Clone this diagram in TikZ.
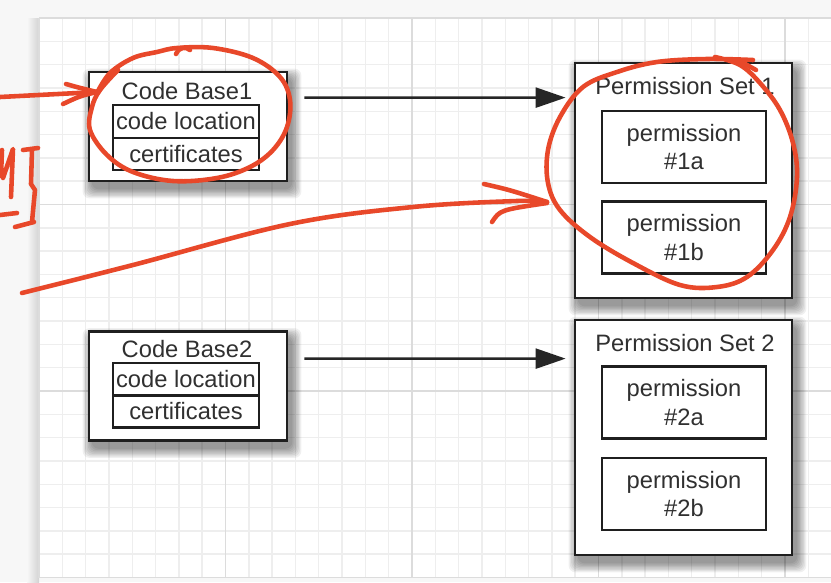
\documentclass[tikz,border=0pt]{standalone}
\usepackage{fontspec}
\setmainfont{Liberation Sans}
\usetikzlibrary{arrows.meta}
\definecolor{inkred}{RGB}{232,72,42}
\definecolor{boxtext}{RGB}{48,48,48}
\definecolor{gridminor}{RGB}{238,238,238}
\definecolor{gridmajor}{RGB}{220,220,220}
% soft shadow under a box: corners x1,y1,x2,y2
\newcommand{\boxshade}[4]{%
  \foreach \k in {1,...,8} {\fill[black, opacity=0.06, rounded corners=4pt]
    ({#1+4-\k*1.3},{#2+7-\k*1.3}) rectangle ({#3+4+\k*1.3},{#4+7+\k*1.3});}}
\begin{document}
\begin{tikzpicture}[x=0.02cm, y=-0.02cm,
  every node/.style={font=\fontsize{13.5}{16}\selectfont, text=boxtext},
  outerbox/.style={draw=black!88, line width=1.6pt, fill=white, inner sep=0pt},
  innerbox/.style={draw=black!88, line width=1.3pt, inner sep=0pt, align=center},
  flow/.style={line width=1.4pt, draw=black!85, -{Triangle[length=0.6cm,width=0.4cm]},
    shorten <=0.32cm, shorten >=0.16cm},
  ink/.style={draw=inkred, line width=2.6pt, line cap=round, line join=round}]
\useasboundingbox (0,0) rectangle (831,582);
\fill[gray!6] (0,0) rectangle (831,582);
\fill[white] (39,18) rectangle (831,577.5);
\shade[left color=gray!6, right color=gray!35] (27,18) rectangle (39,582);
\foreach \i in {0,...,34} {\draw[gridminor, line width=0.8pt] ({39+23.3125*\i},18) -- ({39+23.3125*\i},577.5);}
\foreach \j in {0,...,24} {\draw[gridminor, line width=0.8pt] (39,{18+23.3125*\j}) -- (831,{18+23.3125*\j});}
\foreach \i in {0,...,4} {\draw[gridmajor, line width=1pt] ({39+186.5*\i},18) -- ({39+186.5*\i},577.5);}
\foreach \j in {0,...,3} {\draw[gridmajor, line width=1pt] (39,{18+186.5*\j}) -- (831,{18+186.5*\j});}

\boxshade{89}{72}{287}{181}
\boxshade{89}{331.5}{287}{440.5}
\boxshade{575}{63}{792}{298}
\boxshade{575}{320}{792}{555}

\node[outerbox, minimum width=3.96cm, minimum height=2.18cm] (cb1) at (188,126.5) {};
\node (cb1title) at (187,91) {Code Base1};
\node[innerbox, minimum width=2.92cm, minimum height=0.66cm] (cb1loc) at (186,121.5) {code location};
\node[innerbox, minimum width=2.92cm, minimum height=0.64cm] (cb1cert) at (186,154) {certificates};

\node[outerbox, minimum width=3.96cm, minimum height=2.18cm] (cb2) at (188,386) {};
\node (cb2title) at (187,349) {Code Base2};
\node[innerbox, minimum width=2.92cm, minimum height=0.66cm] (cb2loc) at (186,379.5) {code location};
\node[innerbox, minimum width=2.92cm, minimum height=0.64cm] (cb2cert) at (186,411.5) {certificates};

\node[outerbox, minimum width=4.34cm, minimum height=4.7cm] (ps1) at (683.5,180.5) {};
\node (ps1title) at (685,86) {Permission Set 1};
\node[innerbox, minimum width=3.28cm, minimum height=1.44cm] (p1a) at (684,147) {permission\\\#1a};
\node[innerbox, minimum width=3.28cm, minimum height=1.44cm] (p1b) at (684,237.5) {permission\\\#1b};

\node[outerbox, minimum width=4.34cm, minimum height=4.7cm] (ps2) at (683.5,437.5) {};
\node (ps2title) at (685,343) {Permission Set 2};
\node[innerbox, minimum width=3.28cm, minimum height=1.44cm] (p2a) at (684,402.5) {permission\\\#2a};
\node[innerbox, minimum width=3.28cm, minimum height=1.44cm] (p2b) at (684,494) {permission\\\#2b};

\draw[flow] ([yshift=-0.54cm]cb1.north east) -- ([yshift=-0.72cm]ps1.north west);
\draw[flow] ([yshift=-0.57cm]cb2.north east) -- ([yshift=-0.8cm]ps2.north west);

% hand-drawn marks
\draw[ink] (0,97) -- (97,92);
\draw[ink] (66,84) .. controls (80,88) .. (97,92) .. controls (80,96) .. (63,104);
\draw[ink] plot[smooth, tension=0.6] coordinates {(97,93) (110,73) (133,58) (157,52) (177,48) (213,48) (253,58) (280,77) (290,100) (287,127) (273,150) (250,167) (217,178) (173,181) (133,172) (107,155) (90,130) (92,107) (100,90) (118,70)};
\draw[ink] (176,54) .. controls (180,46) and (186,47) .. (190,50);
\draw[ink] (2,150) -- (1,176) (3,178) -- (13,149) -- (11,197);
\draw[ink] (0,215) -- (17,213);
\draw[ink] (23,150) -- (38,148) (32,150) -- (31,184) -- (35,190) -- (32,222) (15,227) -- (34,222);
\draw[ink] plot[smooth, tension=0.6] coordinates {(22,293) (133,265) (290,224) (413,207) (517,201) (547,202)};
\draw[ink] (484,184) .. controls (510,190) .. (547,202);
\draw[ink] (492,222) .. controls (500,210) .. (547,203);
\draw[ink] plot[smooth, tension=0.6] coordinates {(753,60) (707,59) (657,62) (617,72) (583,87) (560,117) (548,150) (548,183) (560,210) (590,237) (633,263) (680,285) (717,287) (747,277) (773,250) (790,217) (797,177) (793,143) (780,110) (760,83) (740,65) (715,57)};
\draw[ink] (738,60) -- (756,70);
\end{tikzpicture}
\end{document}
